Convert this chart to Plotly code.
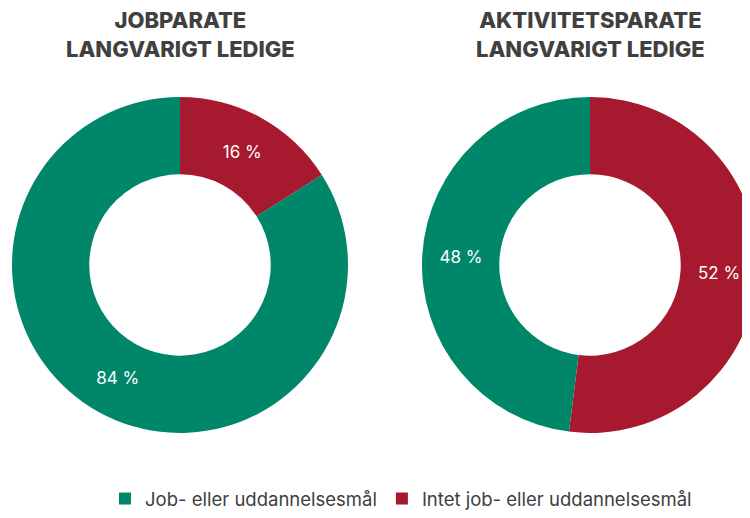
import plotly.graph_objects as go

categories = ["Intet job- eller uddannelsesmål", "Job- eller uddannelsesmål"]
jobparate_values = [16, 84]
aktivitetsparate_values = [52, 48]
titles = ["JOBPARATE<br>LANGVARIGT LEDIGE", "AKTIVITETSPARATE<br>LANGVARIGT LEDIGE"]
colors = ["#A6192E", "#00876A"]

# page body has an 8px margin; work in screen pixels and convert
OFF = 8
W, H = 760, 510
font_family = "Inter, 'Open Sans', Arial, sans-serif"


def px(sx):
    return (sx - OFF) / W


def py(sy):
    return 1 - (sy - OFF) / H


def add_donut(values, x0, x1, y0, y1):
    fig.add_trace(go.Pie(
        labels=categories, values=values, hole=0.54, sort=False,
        direction="clockwise", rotation=0,
        marker=dict(colors=colors, line=dict(width=0)),
        texttemplate="%{value} %", textposition="inside", insidetextorientation="horizontal",
        textfont=dict(color="white", size=17, family=font_family),
        domain=dict(x=[px(x0), px(x1)], y=[py(y1), py(y0)]),
        hoverinfo="label+percent",
    ))


fig = go.Figure()
add_donut(jobparate_values, 10, 350, 98, 438)
add_donut(aktivitetsparate_values, 420, 760, 98, 438)

for xc, t in zip([180, 590], titles):
    fig.add_annotation(
        text=t, x=px(xc), y=py(35), xref="paper", yref="paper",
        showarrow=False, xanchor="center", yanchor="middle",
        font=dict(size=22, color="#404040", family=font_family, weight=800), align="center",
    )

fig.update_layout(
    width=W, height=H, margin=dict(l=0, r=0, t=0, b=0),
    paper_bgcolor="white", plot_bgcolor="white",
    font=dict(family=font_family, color="#404040"),
    legend=dict(orientation="h", x=px(401), xanchor="center", y=py(505), yanchor="middle",
                font=dict(size=18.5, color="#404040", family=font_family), itemwidth=30,
                traceorder="reversed"),
)

fig.write_html("out.html")
